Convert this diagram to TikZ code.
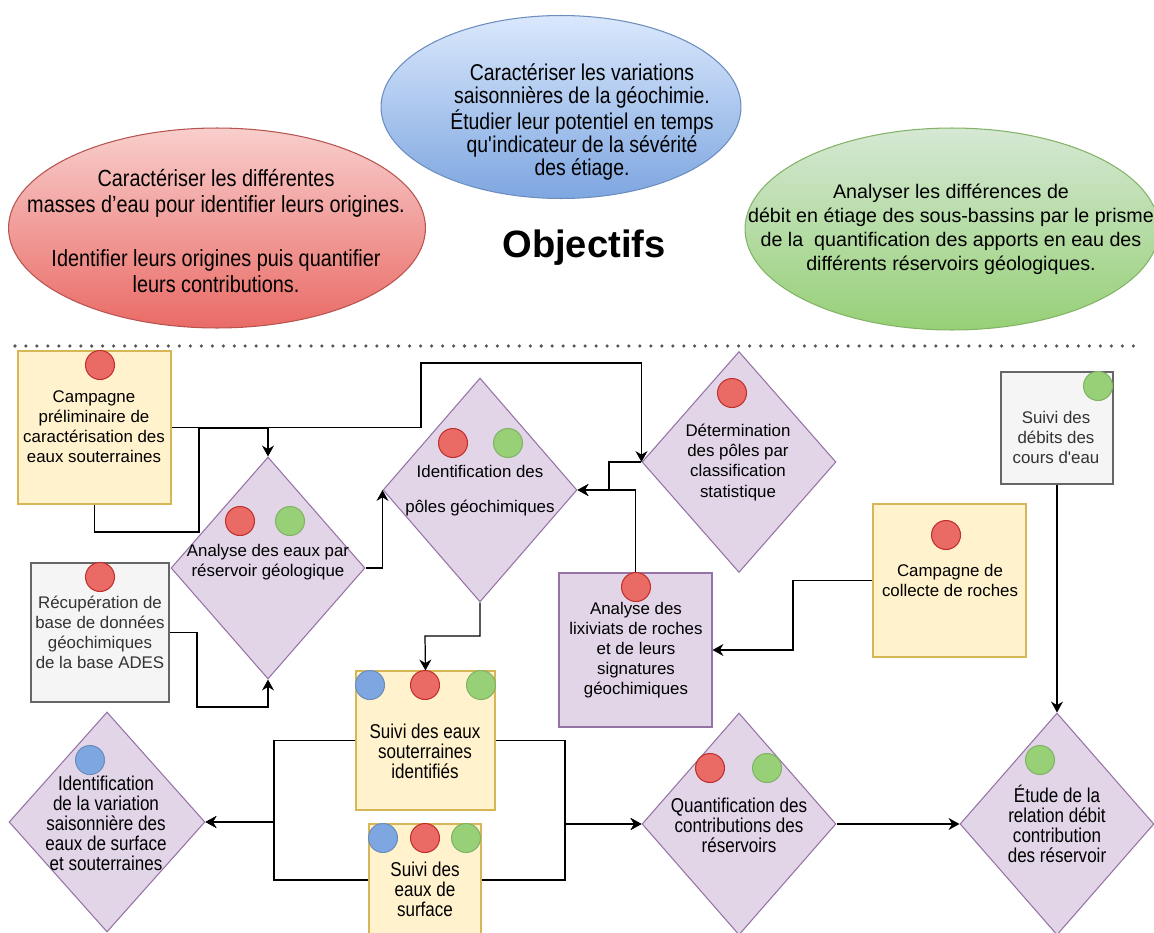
\documentclass[tikz,border=0pt]{standalone}
\usepackage{fontspec}
\setmainfont{Liberation Sans}
\newfontfamily\etroite[FakeStretch=0.85]{Liberation Sans}
\usepackage{tikz}
\usetikzlibrary{shapes.geometric, arrows.meta}
\usepackage{color}

\definecolor{jaune}{HTML}{FFF2CC}
\definecolor{jaunebord}{HTML}{D6B656}
\definecolor{violet}{HTML}{E1D5E7}
\definecolor{violetbord}{HTML}{9673A6}
\definecolor{gris}{HTML}{F5F5F5}
\definecolor{grisbord}{HTML}{666666}
\definecolor{gristexte}{HTML}{333333}
\definecolor{pointille}{HTML}{555555}
\definecolor{ptrouge}{HTML}{EA6B66}
\definecolor{ptrougebord}{HTML}{C0312E}
\definecolor{ptvert}{HTML}{97D077}
\definecolor{ptvertbord}{HTML}{82B366}
\definecolor{ptbleu}{HTML}{7EA6E0}
\definecolor{ptbleubord}{HTML}{6C8EBF}
\definecolor{rougehaut}{HTML}{F8CECC}
\definecolor{rougebord}{HTML}{B85450}
\definecolor{bleuhaut}{HTML}{DAE8FC}
\definecolor{verthaut}{HTML}{D5E8D4}

\begin{document}
\begin{tikzpicture}[x=0.02cm, y=-0.02cm, line width=0.6pt,
    boite/.style={rectangle, draw, inner sep=0pt},
    boitejaune/.style={boite, fill=jaune, draw=jaunebord},
    boiteviolet/.style={boite, fill=violet, draw=violetbord},
    boitegris/.style={boite, fill=gris, draw=grisbord},
    losange/.style={diamond, draw=violetbord, fill=violet, inner sep=0pt,
        minimum width=3.88cm, minimum height=4.44cm},
    pastille/.style={circle, inner sep=0pt, minimum size=0.58cm},
    pointrouge/.style={pastille, fill=ptrouge, draw=ptrougebord},
    pointvert/.style={pastille, fill=ptvert, draw=ptvertbord},
    pointbleu/.style={pastille, fill=ptbleu, draw=ptbleubord},
    texte/.style={align=center, inner sep=0pt, font=\fontsize{9.6}{11.4}\selectfont},
    texteetroit/.style={align=center, inner sep=0pt, font=\etroite\fontsize{11.4}{11.4}\selectfont},
    fleche/.style={-{Stealth[length=6.2pt, width=6.8pt, inset=2pt]}, line width=0.7pt},
  ]
  \useasboundingbox (0,0) rectangle (1154,933);

  % Objectifs
  \node[ellipse, draw=rougebord, top color=rougehaut, bottom color=ptrouge,
        minimum width=8.34cm, minimum height=4cm] (obj1) at (217,228) {};
  \node[align=center, inner sep=0pt, font=\etroite\fontsize{13.3}{14.8}\selectfont] (obj1-t) at (216,231)
    {Caractériser les différentes\\masses d’eau pour identifier leurs origines.\\[15.5pt]Identifier leurs origines puis quantifier\\leurs contributions.};
  \node[ellipse, draw=ptbleubord, top color=bleuhaut, bottom color=ptbleu,
        minimum width=7.2cm, minimum height=3.66cm] (obj2) at (561,107) {};
  \node[align=center, inner sep=0pt, font=\etroite\fontsize{13}{13.1}\selectfont] (obj2-t) at (582,122)
    {Caractériser les variations\\saisonnières de la géochimie.\\Étudier leur potentiel en temps\\qu\textquotesingle indicateur de la sévérité\\des étiage.};
  \node[ellipse, draw=ptvertbord, top color=verthaut, bottom color=ptvert,
        minimum width=8.28cm, minimum height=4.04cm] (obj3) at (952,229) {};
  \node[align=center, inner sep=0pt, font=\fontsize{11.2}{13.6}\selectfont] (obj3-t) at (951,229)
    {Analyser les différences de\\débit en étiage des sous-bassins par le prisme\\de la~ quantification des apports en eau des\\différents réservoirs géologiques.};
  \node[font=\bfseries\fontsize{21.7}{26}\selectfont] (titre) at (584,248) {Objectifs};

  \draw[pointille, line width=2pt, line cap=round, dash pattern=on 0pt off 6.24pt] (15,346) -- (1140,346);

  % Boites
  \node[boitejaune, minimum width=3.06cm, minimum height=3.06cm] (campagne) at (94.5,427.5) {};
  \node[texte] (campagne-t) at (94,427) {Campagne\\préliminaire de\\caractérisation des\\eaux souterraines};
  \node[boitegris, minimum width=2.76cm, minimum height=2.78cm] (recup) at (100,632.5) {};
  \node[texte, text=gristexte] (recup-t) at (100,632) {Récupération de\\base de données\\géochimiques\\de la base ADES};
  \node[boiteviolet, minimum width=3.06cm, minimum height=3.08cm] (lixiv) at (635.5,650) {};
  \node[texte] (lixiv-t) at (636,650.5) {Analyse des\\lixiviats de roches\\et de leurs\\signatures\\géochimiques};
  \node[boitejaune, minimum width=3.06cm, minimum height=3.06cm] (roches) at (949.5,580.5) {};
  \node[texte] (roches-t) at (950,580.5) {Campagne de\\collecte de roches};
  \node[boitegris, minimum width=2.24cm, minimum height=2.24cm] (debits) at (1057,428) {};
  \node[texte, text=gristexte] (debits-t) at (1056,437) {Suivi des\\débits des\\cours d\textquotesingle eau};
  \node[boitejaune, minimum width=2.78cm, minimum height=2.78cm] (suivisout) at (425.5,740.5) {};
  \node[texteetroit] (suivisout-t) at (425,751) {Suivi des eaux\\souterraines\\identifiés};
  \node[boitejaune, minimum width=2.24cm, minimum height=2.24cm] (suivisurf) at (425,880) {};
  \node[texteetroit] (suivisurf-t) at (425,889) {Suivi des\\eaux de\\surface};

  % Losanges
  \node[losange] (analyse) at (268,568) {};
  \node[texte] (analyse-t) at (268,562) {Analyse des eaux par\\réservoir géologique};
  \node[losange, minimum height=4.48cm] (poles) at (480,490) {};
  \node[texte] (poles-t) at (480,490.5) {Identification des\\[8.5pt]pôles géochimiques};
  \node[losange, minimum height=4.42cm] (determ) at (739,462) {};
  \node[texte] (determ-t) at (738,462.5) {Détermination\\des pôles par\\classification\\statistique};
  \node[losange, minimum width=3.92cm, minimum height=4.4cm] (variation) at (107,822) {};
  \node[texteetroit] (variation-t) at (106,823.5) {Identification\\de la variation\\saisonnière des\\eaux de surface\\et souterraines};
  \node[losange] (quantif) at (739,824) {};
  \node[texteetroit] (quantif-t) at (739,825) {Quantification des\\contributions des\\réservoirs};
  \node[losange] (etude) at (1057,824) {};
  \node[texteetroit] (etude-t) at (1057,824) {Étude de la\\relation débit\\contribution\\des réservoir};

  % Pastilles
  \node[pointrouge] (campagne-r) at (100,365) {};
  \node[pointrouge] (analyse-r) at (240,521) {};
  \node[pointvert] (analyse-v) at (290,521) {};
  \node[pointrouge] (recup-r) at (100,577) {};
  \node[pointrouge] (poles-r) at (453,443) {};
  \node[pointvert] (poles-v) at (508,443) {};
  \node[pointrouge] (determ-r) at (732,393) {};
  \node[pointrouge] (lixiv-r) at (636,587) {};
  \node[pointrouge] (roches-r) at (946,535) {};
  \node[pointvert] (debits-v) at (1098,386) {};
  \node[pointbleu] (suivisout-b) at (370,685) {};
  \node[pointrouge] (suivisout-r) at (425,685) {};
  \node[pointvert] (suivisout-v) at (481,685) {};
  \node[pointbleu] (suivisurf-b) at (383,838) {};
  \node[pointrouge] (suivisurf-r) at (425,838) {};
  \node[pointvert] (suivisurf-v) at (466,838) {};
  \node[pointbleu] (variation-b) at (90,760) {};
  \node[pointrouge] (quantif-r) at (710,768) {};
  \node[pointvert] (quantif-v) at (767,768) {};
  \node[pointvert] (etude-v) at (1040,760) {};

  % Liens
  \draw[fleche] (campagne.south) |- (199,532) |- (268,428) -- (analyse.north);
  \draw[fleche] (campagne.east) -| (421,363) -| (determ.west);
  \draw[fleche] (recup.east) -| (197,707) -| (analyse.south);
  \draw[fleche] (analyse.east) -| (poles.west);
  \draw[fleche] (determ.west) -| (609,490) -- (poles.east);
  \draw[fleche] (lixiv.north) |- (poles.east);
  \draw[fleche] (poles.south) |- (425,636) -- (suivisout.north);
  \draw[fleche] (roches.west) -| (793,650) -- (lixiv.east);
  \draw[fleche] (debits.south) -- (etude.north);
  \draw[fleche] (suivisout.west) -| (274,822) -- (variation.east);
  \draw[fleche] (suivisurf.west) -| (274,822) -- (variation.east);
  \draw[fleche] (suivisout.east) -| (565,824) -- (quantif.west);
  \draw[fleche] (suivisurf.east) -| (565,824) -- (quantif.west);
  \draw[fleche] (quantif.east) -- (etude.west);
\end{tikzpicture}
\end{document}
